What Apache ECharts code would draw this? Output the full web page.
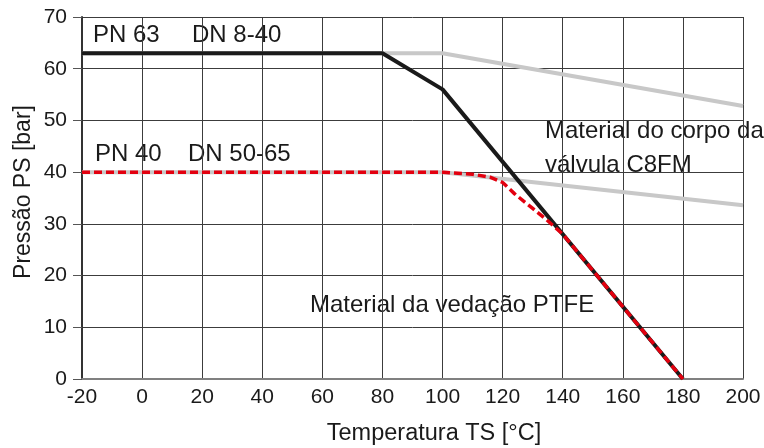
<!DOCTYPE html>
<html>
<head>
<meta charset="utf-8">
<script src="https://cdn.jsdelivr.net/npm/echarts@6/dist/echarts.min.js"></script>
<style>html,body{margin:0;padding:0;background:#fff}#c{width:764px;height:448px}</style>
</head>
<body>
<div id="c"></div>
<script>
// Data
const pn63Temps = [-20, 80, 100, 180];
const pn63Values = [63, 63, 56, 0];
const body63Temps = [-20, 100, 200];
const body63Values = [63, 63, 52.8];
const body40Temps = [-20, 100, 200];
const body40Values = [40, 40, 33.6];
const pn40Temps = [-20, 100, 110, 116, 120, 124, 130, 135, 140, 180];
const pn40Values = [40, 40, 39.6, 39, 38, 35.8, 33, 30.6, 28, 0];
const xTicks = [-20, 0, 20, 40, 60, 80, 100, 120, 140, 160, 180, 200];
const yTicks = [0, 10, 20, 30, 40, 50, 60, 70];

const pairs = (xs, ys) => xs.map((x, i) => [x, ys[i]]);
const FONT = '"Liberation Sans", Arial, sans-serif';
const TXT = '#1a1a1a';

const chart = echarts.init(document.getElementById('c'), null, {renderer: 'canvas'});
chart.setOption({
  animation: false,
  backgroundColor: '#fff',
  grid: {left: 82, right: 21, top: 17, bottom: 69, containLabel: false},
  xAxis: {
    type: 'value', min: xTicks[0], max: xTicks[xTicks.length - 1], interval: 20,
    axisLine: {show: true, onZero: false, lineStyle: {color: '#808080', width: 2}},
    axisTick: {show: false},
    axisLabel: {color: TXT, fontFamily: FONT, fontSize: 21, margin: 8},
    splitLine: {show: true, lineStyle: {color: '#3c3c3c', width: 1}}
  },
  yAxis: {
    type: 'value', min: yTicks[0], max: yTicks[yTicks.length - 1], interval: 10,
    axisLine: {show: true, onZero: false, lineStyle: {color: '#333', width: 2}},
    axisTick: {show: true, inside: false, length: 9, lineStyle: {color: '#555', width: 1}},
    axisLabel: {color: TXT, fontFamily: FONT, fontSize: 21, margin: 15},
    splitLine: {show: true, lineStyle: {color: '#3c3c3c', width: 1}}
  },
  series: [
    {type: 'line', data: pairs(body63Temps, body63Values), symbol: 'none', z: 2,
     lineStyle: {color: '#c8c8c8', width: 4}},
    {type: 'line', data: pairs(body40Temps, body40Values), symbol: 'none', z: 2,
     lineStyle: {color: '#c8c8c8', width: 4}},
    {type: 'line', data: pairs(pn63Temps, pn63Values), symbol: 'none', z: 3,
     lineStyle: {color: '#1a1a1a', width: 4}},
    {type: 'line', data: pairs(pn40Temps, pn40Values), symbol: 'none', z: 4,
     lineStyle: {color: '#e3000f', width: 3.5, type: [8, 4]}}
  ],
  graphic: [
    {type: 'text', x: 434, y: 434, style: {text: 'Temperatura TS [°C]', font: '23.5px ' + FONT, fill: TXT, align: 'center', verticalAlign: 'middle'}},
    {type: 'text', x: 24, y: 192, rotation: Math.PI / 2, style: {text: 'Pressão PS [bar]', font: '23px ' + FONT, fill: TXT, align: 'center', verticalAlign: 'middle'}},
    {type: 'text', x: 93, y: 35, style: {text: 'PN 63', font: '24px ' + FONT, fill: TXT, align: 'left', verticalAlign: 'middle'}},
    {type: 'text', x: 192, y: 35, style: {text: 'DN 8-40', font: '24px ' + FONT, fill: TXT, align: 'left', verticalAlign: 'middle'}},
    {type: 'text', x: 95, y: 154, style: {text: 'PN 40', font: '24px ' + FONT, fill: TXT, align: 'left', verticalAlign: 'middle'}},
    {type: 'text', x: 188, y: 154, style: {text: 'DN 50-65', font: '24px ' + FONT, fill: TXT, align: 'left', verticalAlign: 'middle'}},
    {type: 'text', x: 310, y: 305, style: {text: 'Material da vedação PTFE', font: '24px ' + FONT, fill: TXT, align: 'left', verticalAlign: 'middle'}},
    {type: 'text', x: 545, y: 131, style: {text: 'Material do corpo da', font: '24px ' + FONT, fill: TXT, align: 'left', verticalAlign: 'middle'}},
    {type: 'text', x: 545, y: 165, style: {text: 'válvula C8FM', font: '24px ' + FONT, fill: TXT, align: 'left', verticalAlign: 'middle'}}
  ]
});
</script>
</body>
</html>
